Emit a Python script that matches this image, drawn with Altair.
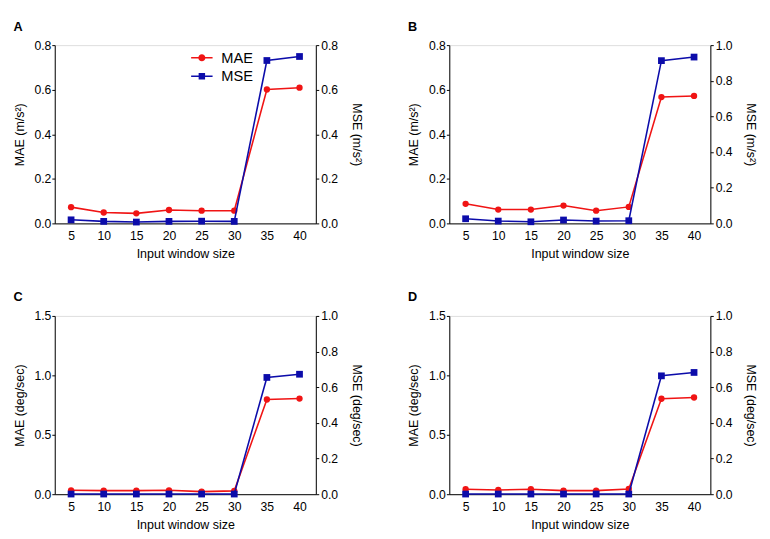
import altair as alt
import pandas as pd

windows = [5, 10, 15, 20, 25, 30, 35, 40]

a_mae = [0.073, 0.049, 0.045, 0.060, 0.057, 0.057, 0.601, 0.609]
a_mse = [0.016, 0.009, 0.006, 0.009, 0.010, 0.009, 0.731, 0.749]
b_mae = [0.088, 0.062, 0.062, 0.080, 0.057, 0.074, 0.567, 0.572]
b_mse = [0.026, 0.013, 0.009, 0.019, 0.013, 0.015, 0.913, 0.933]
c_mae = [0.033, 0.030, 0.030, 0.033, 0.022, 0.028, 0.797, 0.805]
c_mse = [0.001, 0.001, 0.001, 0.001, 0.001, 0.001, 0.655, 0.673]
d_mae = [0.042, 0.036, 0.042, 0.030, 0.030, 0.044, 0.803, 0.814]
d_mse = [0.001, 0.001, 0.001, 0.001, 0.001, 0.001, 0.664, 0.683]

series = ["MAE", "MSE"]
RED = "#f01414"
BLUE = "#0c0caa"
FONT = "Liberation Sans"

CIRCLE_PATH = ("M-1,-0.07 L1,-0.07 L1,0.07 L-1,0.07 Z "
               "M0.33,0 A0.33,0.33 0 1,1 -0.33,0 A0.33,0.33 0 1,1 0.33,0 Z")
SQUARE_PATH = ("M-1,-0.07 L1,-0.07 L1,0.07 L-1,0.07 Z "
               "M-0.3,-0.3 L0.3,-0.3 L0.3,0.3 L-0.3,0.3 Z")

W, H = 268, 183

AX = dict(grid=False, labelFont=FONT, titleFont=FONT, labelFontSize=12.5,
          titleFontSize=12.8, titleFontWeight=400, labelColor="black",
          titleColor="black", domainColor="black", tickColor="black")


def panel(letter, mae, mse, mae_max, mae_ticks, mse_max, mse_ticks, unit, legend=False):
    df = pd.DataFrame({"w": windows, "MAE": mae, "MSE": mse})
    x = alt.X("w:Q",
              scale=alt.Scale(domain=[2.5, 42.5], nice=False, zero=False),
              axis=alt.Axis(values=windows, title="Input window size", ticks=False,
                            labelPadding=7, titlePadding=6, labelFlush=False, **AX))
    base = alt.Chart(df).encode(x=x)
    mae_layer = base.mark_line(
        color=RED, strokeWidth=1.6,
        point=alt.OverlayMarkDef(filled=True, shape="circle", size=42, color=RED, opacity=1),
    ).encode(
        y=alt.Y("MAE:Q", scale=alt.Scale(domain=[0, mae_max], nice=False),
                axis=alt.Axis(orient="left", values=mae_ticks, format=".1f",
                              title=f"MAE {unit}", tickSize=3,
                              labelPadding=1, titlePadding=8, **AX))
    )
    mse_layer = base.mark_line(
        color=BLUE, strokeWidth=1.6,
        point=alt.OverlayMarkDef(filled=True, shape="square", size=48, color=BLUE, opacity=1),
    ).encode(
        y=alt.Y("MSE:Q", scale=alt.Scale(domain=[0, mse_max], nice=False),
                axis=alt.Axis(orient="right", values=mse_ticks, format=".1f",
                              title=f"MSE {unit}", tickSize=3,
                              labelPadding=2, titlePadding=12, **AX))
    )
    layers = [mae_layer, mse_layer]
    if legend:
        leg_df = pd.DataFrame({"series": series})
        leg = alt.Legend(orient="none", legendX=140, legendY=2, title=None,
                         symbolOpacity=1, symbolSize=484, symbolStrokeWidth=0,
                         labelFontSize=15, labelFont=FONT, labelOffset=9,
                         labelColor="black", rowPadding=-1, padding=0)
        leg_layer = alt.Chart(leg_df).mark_point(filled=True, opacity=0).encode(
            color=alt.Color("series:N",
                            scale=alt.Scale(domain=series, range=[RED, BLUE]),
                            legend=leg),
            shape=alt.Shape("series:N",
                            scale=alt.Scale(domain=series, range=[CIRCLE_PATH, SQUARE_PATH]),
                            legend=leg),
        )
        layers.append(leg_layer)
    return alt.layer(*layers).resolve_scale(y="independent").properties(
        width=W, height=H,
        title=alt.TitleParams(letter, anchor="start", frame="bounds", fontSize=13,
                              fontWeight="bold", font=FONT, offset=6, color="black"),
    )


unit_acc = "(m/s\u00b2)"
unit_gyr = "(deg/sec)"
p_a = panel("A", a_mae, a_mse, 0.8, [0, 0.2, 0.4, 0.6, 0.8], 0.8, [0, 0.2, 0.4, 0.6, 0.8], unit_acc, legend=True)
p_b = panel("B", b_mae, b_mse, 0.8, [0, 0.2, 0.4, 0.6, 0.8], 1.0, [0, 0.2, 0.4, 0.6, 0.8, 1.0], unit_acc)
p_c = panel("C", c_mae, c_mse, 1.5, [0, 0.5, 1.0, 1.5], 1.0, [0, 0.2, 0.4, 0.6, 0.8, 1.0], unit_gyr)
p_d = panel("D", d_mae, d_mse, 1.5, [0, 0.5, 1.0, 1.5], 1.0, [0, 0.2, 0.4, 0.6, 0.8, 1.0], unit_gyr)

chart = alt.vconcat(
    alt.hconcat(p_a, p_b, spacing=46),
    alt.hconcat(p_c, p_d, spacing=46),
    spacing=30,
).configure_view(stroke=None).configure(background="white")

chart.save("out.html", embed_options={"renderer": "svg", "actions": False})
